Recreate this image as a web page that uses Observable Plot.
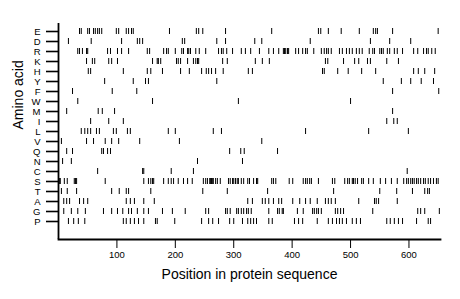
<!DOCTYPE html>
<html>
<head>
<meta charset="utf-8">
<script src="https://cdn.jsdelivr.net/npm/d3@7"></script>
<script src="https://cdn.jsdelivr.net/npm/@observablehq/plot@0.6"></script>
<style>
  body { margin: 0; background: #fff; }
  #chart svg { display: block; }
  [aria-label="y-axis tick"] { stroke-width: 1.6; }
  [aria-label="y-axis tick label"] { font-size: 9.5px; }
  [aria-label="x-axis tick label"] { font-size: 9.5px; }
</style>
</head>
<body>
<div id="chart"></div>
<script>
const aminoAcids = ["E","D","R","K","H","Y","F","W","M","I","L","V","Q","N","C","S","T","A","G","P"];
const xTicks = [100, 200, 300, 400, 500, 600];
const seqLength = 654;

const posE = [36,39,50,53,60,63,67,70,74,99,103,116,120,125,128,190,236,240,247,286,365,445,449,462,484,515,539,543,546,572,650];
const posD = [17,56,108,135,139,144,212,216,271,286,336,348,431,534,567,603];
const posR = [33,36,41,48,50,84,89,101,108,120,152,156,180,185,188,200,211,214,221,223,226,235,241,252,274,279,282,288,298,313,320,329,344,360,368,377,385,387,389,392,394,406,411,418,423,426,437,450,455,459,462,467,481,486,493,498,503,510,515,520,532,538,541,550,553,556,563,567,575,580,589,608,615,625,630,633,639,645];
const posK = [48,58,62,86,91,101,161,169,171,175,202,205,209,221,231,235,238,240,281,289,337,349,361,457,461,488,507,514,529,534,562,582];
const posH = [51,55,111,152,158,178,209,224,245,253,257,262,269,282,325,332,452,455,478,496,519,543,608,616,627,644];
const posY = [79,128,149,154,271,556,587,603,621,642];
const posF = [24,92,134,572,651];
const posW = [33,161,308,500];
const posM = [14,68,75,96,572];
const posI = [55,86,111,562,574,580];
const posL = [39,45,50,55,65,70,94,99,118,123,188,200,265,279,423,531,599];
const posV = [5,48,60,80,91,103,139,207,348];
const posQ = [14,24,74,77,84,89,293,312,318,375];
const posN = [7,22,238,315];
const posC = [67,144,146,193,231,597];
const posS = [2,3,10,15,27,29,31,80,146,154,158,161,163,180,188,193,197,205,214,221,229,248,252,255,259,260,262,264,265,269,272,277,291,294,298,300,303,306,308,313,317,324,327,334,339,341,365,368,372,395,401,419,423,426,430,433,445,469,473,490,495,498,503,505,508,512,519,522,531,539,551,560,570,580,591,596,599,603,606,609,613,616,620,625,628,633,637,642,647,650];
const posT = [5,15,31,91,104,116,120,158,247,289,358,471,550,579,606,627,632,635];
const posA = [9,14,19,36,43,50,116,123,130,146,164,324,332,349,354,360,368,377,382,401,413,423,431,443,457,462,467,474,514,541,544,548,580];
const posG = [9,22,33,46,77,91,101,110,120,125,135,146,154,178,195,217,252,257,286,289,294,305,308,313,317,322,325,330,360,375,378,383,385,409,419,435,438,442,445,450,474,478,483,488,538,615,620,627,652];
const posP = [17,26,34,45,111,116,123,130,137,146,166,169,199,245,257,264,274,293,300,315,324,329,334,339,360,366,404,411,418,443,462,469,476,481,486,493,503,510,517,562,568,575,582,589,613,633,637];

const positionsByAA = {E: posE, D: posD, R: posR, K: posK, H: posH, Y: posY, F: posF, W: posW, M: posM, I: posI,
  L: posL, V: posV, Q: posQ, N: posN, C: posC, S: posS, T: posT, A: posA, G: posG, P: posP};

const data = aminoAcids.flatMap(aa => positionsByAA[aa].map(pos => ({aa, pos})));

const chart = Plot.plot({
  width: 460,
  height: 299,
  marginLeft: 58,
  marginRight: 20,
  marginTop: 23,
  marginBottom: 60,
  style: {fontFamily: "'Liberation Sans', Arial, sans-serif", fontSize: "9px", color: "black", background: "white"},
  x: {domain: [0, seqLength], ticks: xTicks, tickSize: 9, tickPadding: 3, label: null},
  y: {type: "band", domain: aminoAcids, range: [16.5, 234.5], padding: 0.4, tickSize: 12, tickPadding: 6, label: null, tickFormat: d => d},
  marks: [
    Plot.frame({anchor: "bottom", stroke: "black", strokeWidth: 1.8}),
    Plot.ruleX([0], {stroke: "black", strokeWidth: 1.8}),
    Plot.tickX(data, {x: "pos", y: "aa", stroke: "black", strokeWidth: 1}),
    Plot.text(["Position in protein sequence"], {frameAnchor: "bottom", dy: 39, fontSize: 14, fill: "black"}),
    Plot.text(["Amino acid"], {frameAnchor: "left", dx: -40, dy: -2, rotate: -90, fontSize: 14, fill: "black"})
  ]
});
document.getElementById("chart").appendChild(chart);
</script>
</body>
</html>
